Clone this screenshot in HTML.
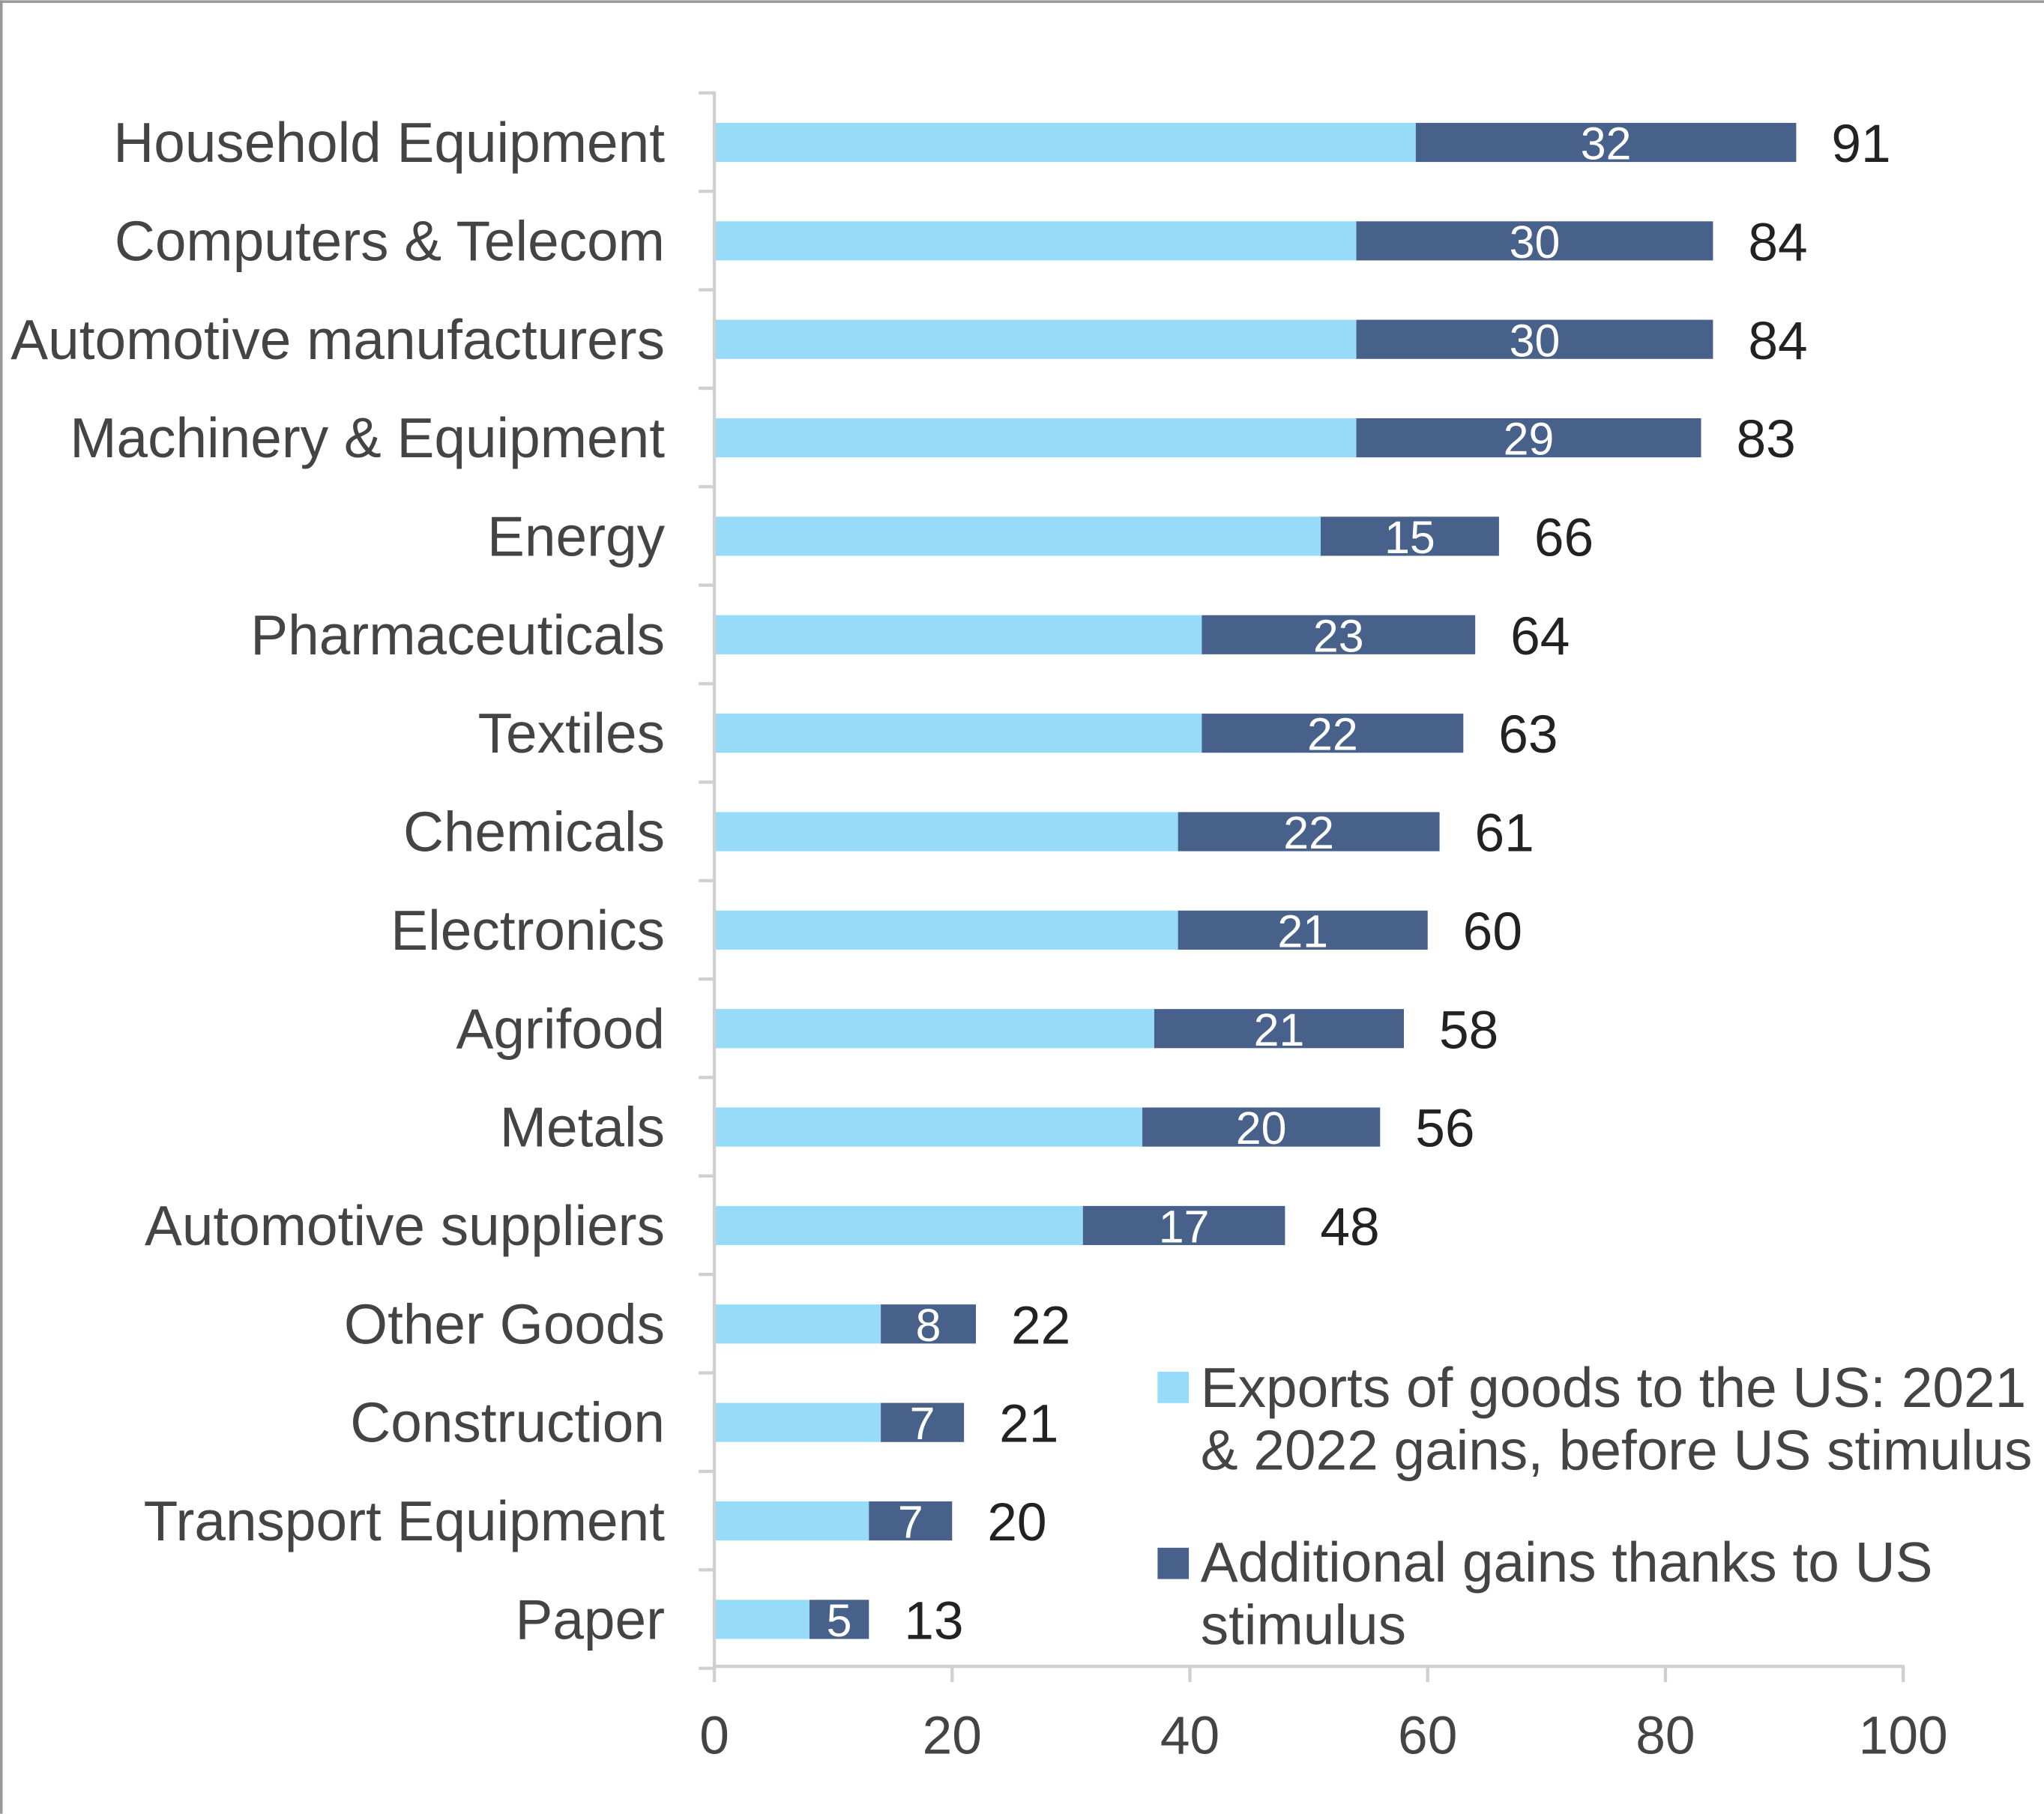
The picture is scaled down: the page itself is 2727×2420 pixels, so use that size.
<!DOCTYPE html>
<html><head><meta charset="utf-8"><style>html,body{margin:0;padding:0;background:#fff}svg{display:block}</style></head>
<body>
<svg width="2727" height="2420" viewBox="0 0 1568 1391" xmlns="http://www.w3.org/2000/svg" font-family="Liberation Sans, Arial, sans-serif">
<rect x="0" y="0" width="1568" height="1391" fill="#fff"/>
<line x1="1" y1="0" x2="1" y2="1391" stroke="#999" stroke-width="2"/>
<line x1="0" y1="1" x2="1568" y2="1" stroke="#999" stroke-width="2"/>
<g id="chart"></g>
<script>
const data=[["Household Equipment",91,32],["Computers & Telecom",84,30],["Automotive manufacturers",84,30],["Machinery & Equipment",83,29],["Energy",66,15],["Pharmaceuticals",64,23],["Textiles",63,22],["Chemicals",61,22],["Electronics",60,21],["Agrifood",58,21],["Metals",56,20],["Automotive suppliers",48,17],["Other Goods",22,8],["Construction",21,7],["Transport Equipment",20,7],["Paper",13,5]];
const x0=548,sc=9.12,y0=109,dy=75.53,ns="http://www.w3.org/2000/svg";
const g=document.getElementById("chart");
function el(t,a,txt){const e=document.createElementNS(ns,t);for(const k in a)e.setAttribute(k,a[k]);if(txt!==undefined)e.textContent=txt;g.appendChild(e);return e;}
data.forEach((d,i)=>{const cy=y0+i*dy;const l=d[1]-d[2];
el("rect",{x:x0,y:cy-15,width:l*sc,height:30,fill:"#97DBF8"});
el("rect",{x:x0+l*sc,y:cy-15,width:d[2]*sc,height:30,fill:"#48618A"});
el("text",{x:x0+(l+d[2]/2)*sc,y:cy+13,"text-anchor":"middle","font-size":"35",fill:"#fff"},d[2]);
el("text",{x:x0+d[1]*sc+27,y:cy+15,"font-size":"41",fill:"#222"},d[1]);
el("text",{x:510,y:cy+15,"text-anchor":"end","font-size":"43",fill:"#444"},d[0]);
});
el("line",{x1:x0,y1:70,x2:x0,y2:1278,stroke:"#d0d0d0","stroke-width":2.5});
for(let i=0;i<=16;i++){const y=71+i*dy;el("line",{x1:536,y1:y,x2:x0,y2:y,stroke:"#d0d0d0","stroke-width":2.5});}
el("line",{x1:x0,y1:1278,x2:1461,y2:1278,stroke:"#d0d0d0","stroke-width":2.5});
for(let v=0;v<=100;v+=20){const x=x0+v*sc;el("line",{x1:x,y1:1278,x2:x,y2:1290,stroke:"#d0d0d0","stroke-width":2.5});
el("text",{x:x,y:1345,"text-anchor":"middle","font-size":"41",fill:"#444"},v);}
el("rect",{x:888,y:1052,width:24,height:24,fill:"#97DBF8"});
el("text",{x:921,y:1079,"font-size":"43",fill:"#444"},"Exports of goods to the US: 2021");
el("text",{x:921,y:1127,"font-size":"43",fill:"#444"},"& 2022 gains, before US stimulus");
el("rect",{x:888,y:1187,width:24,height:24,fill:"#48618A"});
el("text",{x:921,y:1213,"font-size":"43",fill:"#444"},"Additional gains thanks to US");
el("text",{x:921,y:1261,"font-size":"43",fill:"#444"},"stimulus");
</script>
</svg>
</body></html>
